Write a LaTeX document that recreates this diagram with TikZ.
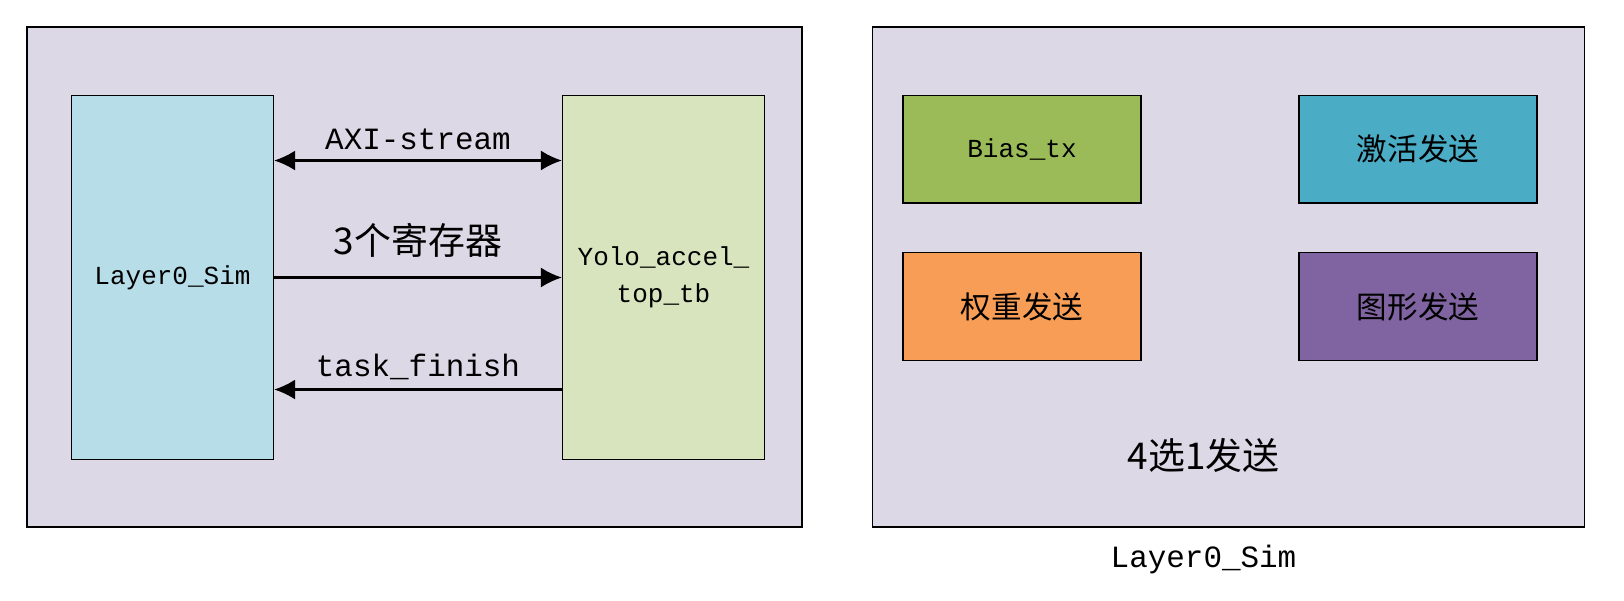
\documentclass[tikz,border=0pt]{standalone}
\usepackage{fontspec}
\setmainfont{Liberation Mono}
\newfontfamily\cjk{Noto Sans CJK SC}
\usetikzlibrary{arrows.meta,positioning}

\definecolor{bgpurple}{HTML}{DDD8E6}
\definecolor{simblue}{HTML}{B7DDE8}
\definecolor{tbgreen}{HTML}{D7E4BD}
\definecolor{biasgreen}{HTML}{9BBB59}
\definecolor{actblue}{HTML}{4BACC6}
\definecolor{wtorange}{HTML}{F79D56}
\definecolor{imgpurple}{HTML}{8064A2}

\tikzset{
  frame/.style={draw=black,fill=bgpurple,line width=0.6pt,inner sep=0pt},
  modbox/.style={draw=black,line width=0.6pt,inner sep=0pt,align=center,font=\fontsize{14.8}{21}\selectfont},
  txbox/.style={modbox,minimum width=4.76cm,minimum height=2.154cm,font=\fontsize{17.4}{21}\selectfont\cjk},
  sig/.style={line width=1.4pt,-{Latex[length=4.2mm,width=4mm]}},
  bisig/.style={line width=1.4pt,{Latex[length=4.2mm,width=4mm]}-{Latex[length=4.2mm,width=4mm]}},
  siglbl/.style={font=\fontsize{17.6}{21}\selectfont,inner sep=0pt}
}

\begin{document}
\begin{tikzpicture}
\useasboundingbox (0,0) rectangle (32.48,-12);
\node[frame,minimum width=15.5cm,minimum height=10cm] (sys) at (8.29,-5.54) {};
\node[frame,minimum width=14.25cm,minimum height=10cm] (simtop) at (24.57,-5.54) {};
\node[modbox,fill=simblue,minimum width=4.04cm,minimum height=7.29cm] (layer) at (3.45,-5.55) {Layer0\_Sim};
\node[modbox,fill=tbgreen,minimum width=4.04cm,minimum height=7.29cm] (yolo) at (13.27,-5.55) {Yolo\_accel\_\\top\_tb};
\draw[bisig] ([yshift=2.34cm]layer.east) -- ([yshift=2.34cm]yolo.west)
  node[siglbl,midway,above=0.18cm] (axi) {AXI-stream};
\draw[sig] (layer.east) -- (yolo.west)
  node[siglbl,midway,above=0.38cm,font=\fontsize{21}{21}\selectfont\cjk] (regs) {3个寄存器};
\draw[sig] ([yshift=-2.24cm]yolo.west) -- ([yshift=-2.24cm]layer.east)
  node[siglbl,midway,above=0.16cm] (fin) {task\_finish};
\node[txbox,fill=biasgreen,font=\fontsize{14.8}{21}\selectfont] (bias) at (20.44,-2.983) {Bias\_tx};
\node[txbox,fill=actblue] (act) at (28.36,-2.983) {激活发送};
\node[txbox,fill=wtorange] (wt) at (20.44,-6.131) {权重发送};
\node[txbox,fill=imgpurple] (img) at (28.36,-6.131) {图形发送};
\node[siglbl,font=\fontsize{21}{21}\selectfont\cjk] (sel) at (24.07,-9.11) {4选1发送};
\node[siglbl] (cap) at (24.07,-11.18) {Layer0\_Sim};
\end{tikzpicture}
\end{document}
